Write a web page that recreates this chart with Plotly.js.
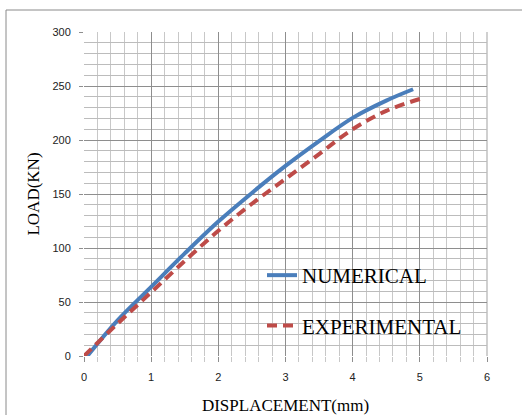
<!DOCTYPE html>
<html>
<head>
<meta charset="utf-8">
<script src="https://cdn.plot.ly/plotly-3.0.1.min.js"></script>
<style>html,body{margin:0;padding:0;background:#fff;}#chart{width:522px;height:415px;}</style>
</head>
<body>
<div id="chart"></div>
<script>
// Data
const numericalDisp = [0.05, 0.5, 1.0, 1.5, 2.0, 2.5, 3.0, 3.5, 4.0, 4.5, 4.9];
const numericalLoad = [0, 33, 64, 95, 124.5, 151, 176, 199, 220.5, 236.5, 247];
const experimentalDisp = [0.0, 0.5, 1.0, 1.5, 2.0, 2.5, 3.0, 3.5, 4.0, 4.5, 5.0];
const experimentalLoad = [0, 30, 59, 88, 116, 141, 164, 187, 210, 227, 238];
const seriesNames = ["NUMERICAL", "EXPERIMENTAL"];
const xTitle = "DISPLACEMENT(mm)";
const yTitle = "LOAD(KN)";

const serif = "'Liberation Serif', 'Times New Roman', serif";
const sans = "'Liberation Sans', Arial, sans-serif";

const traces = [
  {x: numericalDisp, y: numericalLoad, name: seriesNames[0], mode: 'lines', legendgroup: 'a',
   line: {color: '#4a7ebb', width: 4, shape: 'spline', smoothing: 1}},
  {x: experimentalDisp, y: experimentalLoad, name: seriesNames[1], mode: 'lines', legendgroup: 'b',
   line: {color: '#be4b48', width: 4, dash: '10px,6px', shape: 'spline', smoothing: 1}}
];

const W = 403, H = 324;
const px = v => (v - 84) / W;
const py = v => (356 - v) / H;

const layout = {
  width: 522, height: 415,
  margin: {l: 84, r: 35, t: 32, b: 59, pad: 0},
  paper_bgcolor: '#fff', plot_bgcolor: '#fff',
  showlegend: true,
  legend: {
    x: px(262), y: py(255), xanchor: 'left', yanchor: 'top',
    bgcolor: 'rgba(0,0,0,0)', borderwidth: 0,
    font: {family: serif, size: 21, color: '#000'},
    itemwidth: 30, traceorder: 'grouped', tracegroupgap: 20
  },
  xaxis: {
    range: [0, 6], dtick: 1, tick0: 0,
    showgrid: true, gridcolor: '#8e8e8e', gridwidth: 1,
    zeroline: false, showline: false,
    ticks: 'outside', ticklen: 5, tickcolor: '#8e8e8e',
    tickfont: {family: sans, size: 11, color: '#222'},
    ticklabelstandoff: 6,
    minor: {dtick: 0.2, showgrid: true, gridcolor: '#c8c8c8', gridwidth: 1, ticks: 'outside', ticklen: 5, tickcolor: '#c8c8c8'},
    title: {text: xTitle, font: {family: serif, size: 17, color: '#000'}, standoff: 18}
  },
  yaxis: {
    range: [0, 300], dtick: 50, tick0: 0,
    showgrid: true, gridcolor: '#8e8e8e', gridwidth: 1,
    zeroline: false, showline: false,
    ticks: 'outside', ticklen: 4, tickcolor: '#8e8e8e',
    tickfont: {family: sans, size: 11, color: '#222'},
    ticklabelstandoff: 6,
    minor: {dtick: 10, showgrid: true, gridcolor: '#bcbcbc', gridwidth: 1},
    title: {text: yTitle, font: {family: serif, size: 17, color: '#000'}, standoff: 8}
  },
  shapes: [
    {type: 'line', xref: 'paper', yref: 'paper', x0: px(6), x1: px(530), y0: py(10), y1: py(10), line: {color: '#8a8a8a', width: 1}},
    {type: 'line', xref: 'paper', yref: 'paper', x0: px(6), x1: px(6), y0: py(10), y1: py(420), line: {color: '#8a8a8a', width: 1}},
    {type: 'line', xref: 'paper', yref: 'paper', x0: 1, x1: 1, y0: 0, y1: 1, line: {color: '#d0d0d0', width: 2}, layer: 'below'}
  ]
};

Plotly.newPlot('chart', traces, layout, {staticPlot: true, displayModeBar: false});
</script>
</body>
</html>
